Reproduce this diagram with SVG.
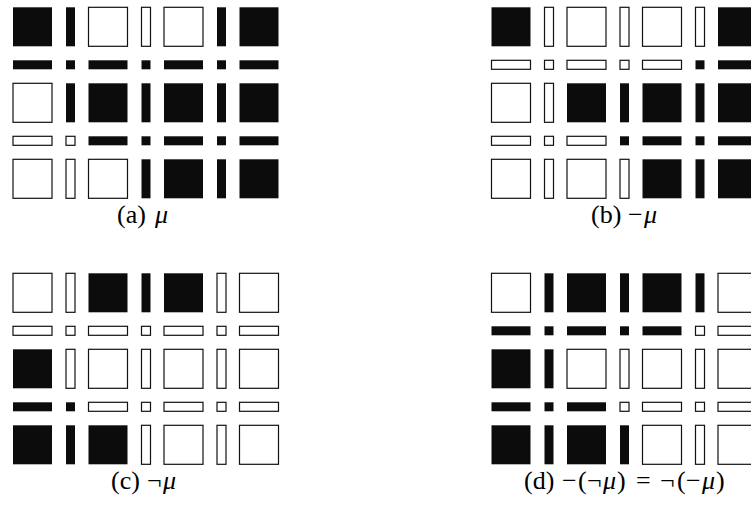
<svg xmlns="http://www.w3.org/2000/svg" width="751" height="512" viewBox="0 0 751 512">
<style>
.f{fill:#0c0c0c;stroke:none}
.w{fill:#fff;stroke:#111;stroke-width:1.2}
.lbl{font-family:"Liberation Serif","Times New Roman",serif;font-size:26px;fill:#000}
.it{font-style:italic}
</style>
<rect width="751" height="512" fill="#fff"/>
<g id="panel-a" transform="translate(13,7.3)">
<rect class="f" x="0" y="0" width="39" height="39"/><rect class="f" x="53" y="0" width="9" height="39"/><rect class="w" x="75.5" y="0" width="39" height="39"/><rect class="w" x="128.5" y="0" width="9" height="39"/><rect class="w" x="151" y="0" width="39" height="39"/><rect class="f" x="204" y="0" width="9" height="39"/><rect class="f" x="226.5" y="0" width="39" height="39"/>
<rect class="f" x="0" y="53" width="39" height="9"/><rect class="f" x="53" y="53" width="9" height="9"/><rect class="f" x="75.5" y="53" width="39" height="9"/><rect class="f" x="128.5" y="53" width="9" height="9"/><rect class="f" x="151" y="53" width="39" height="9"/><rect class="f" x="204" y="53" width="9" height="9"/><rect class="f" x="226.5" y="53" width="39" height="9"/>
<rect class="w" x="0" y="76" width="39" height="39"/><rect class="f" x="53" y="76" width="9" height="39"/><rect class="f" x="75.5" y="76" width="39" height="39"/><rect class="f" x="128.5" y="76" width="9" height="39"/><rect class="f" x="151" y="76" width="39" height="39"/><rect class="f" x="204" y="76" width="9" height="39"/><rect class="f" x="226.5" y="76" width="39" height="39"/>
<rect class="w" x="0" y="129" width="39" height="9"/><rect class="w" x="53" y="129" width="9" height="9"/><rect class="f" x="75.5" y="129" width="39" height="9"/><rect class="f" x="128.5" y="129" width="9" height="9"/><rect class="f" x="151" y="129" width="39" height="9"/><rect class="f" x="204" y="129" width="9" height="9"/><rect class="f" x="226.5" y="129" width="39" height="9"/>
<rect class="w" x="0" y="152" width="39" height="39"/><rect class="w" x="53" y="152" width="9" height="39"/><rect class="w" x="75.5" y="152" width="39" height="39"/><rect class="f" x="128.5" y="152" width="9" height="39"/><rect class="f" x="151" y="152" width="39" height="39"/><rect class="f" x="204" y="152" width="9" height="39"/><rect class="f" x="226.5" y="152" width="39" height="39"/>
</g>
<g id="panel-b" transform="translate(491.5,7.3)">
<rect class="f" x="0" y="0" width="39" height="39"/><rect class="w" x="53" y="0" width="9" height="39"/><rect class="w" x="75.5" y="0" width="39" height="39"/><rect class="w" x="128.5" y="0" width="9" height="39"/><rect class="w" x="151" y="0" width="39" height="39"/><rect class="w" x="204" y="0" width="9" height="39"/><rect class="f" x="226.5" y="0" width="39" height="39"/>
<rect class="w" x="0" y="53" width="39" height="9"/><rect class="w" x="53" y="53" width="9" height="9"/><rect class="w" x="75.5" y="53" width="39" height="9"/><rect class="w" x="128.5" y="53" width="9" height="9"/><rect class="w" x="151" y="53" width="39" height="9"/><rect class="f" x="204" y="53" width="9" height="9"/><rect class="f" x="226.5" y="53" width="39" height="9"/>
<rect class="w" x="0" y="76" width="39" height="39"/><rect class="w" x="53" y="76" width="9" height="39"/><rect class="f" x="75.5" y="76" width="39" height="39"/><rect class="f" x="128.5" y="76" width="9" height="39"/><rect class="f" x="151" y="76" width="39" height="39"/><rect class="f" x="204" y="76" width="9" height="39"/><rect class="f" x="226.5" y="76" width="39" height="39"/>
<rect class="w" x="0" y="129" width="39" height="9"/><rect class="w" x="53" y="129" width="9" height="9"/><rect class="w" x="75.5" y="129" width="39" height="9"/><rect class="f" x="128.5" y="129" width="9" height="9"/><rect class="f" x="151" y="129" width="39" height="9"/><rect class="f" x="204" y="129" width="9" height="9"/><rect class="f" x="226.5" y="129" width="39" height="9"/>
<rect class="w" x="0" y="152" width="39" height="39"/><rect class="w" x="53" y="152" width="9" height="39"/><rect class="w" x="75.5" y="152" width="39" height="39"/><rect class="w" x="128.5" y="152" width="9" height="39"/><rect class="f" x="151" y="152" width="39" height="39"/><rect class="f" x="204" y="152" width="9" height="39"/><rect class="f" x="226.5" y="152" width="39" height="39"/>
</g>
<g id="panel-c" transform="translate(13,273.3)">
<rect class="w" x="0" y="0" width="39" height="39"/><rect class="w" x="53" y="0" width="9" height="39"/><rect class="f" x="75.5" y="0" width="39" height="39"/><rect class="f" x="128.5" y="0" width="9" height="39"/><rect class="f" x="151" y="0" width="39" height="39"/><rect class="w" x="204" y="0" width="9" height="39"/><rect class="w" x="226.5" y="0" width="39" height="39"/>
<rect class="w" x="0" y="53" width="39" height="9"/><rect class="w" x="53" y="53" width="9" height="9"/><rect class="w" x="75.5" y="53" width="39" height="9"/><rect class="w" x="128.5" y="53" width="9" height="9"/><rect class="w" x="151" y="53" width="39" height="9"/><rect class="w" x="204" y="53" width="9" height="9"/><rect class="w" x="226.5" y="53" width="39" height="9"/>
<rect class="f" x="0" y="76" width="39" height="39"/><rect class="w" x="53" y="76" width="9" height="39"/><rect class="w" x="75.5" y="76" width="39" height="39"/><rect class="w" x="128.5" y="76" width="9" height="39"/><rect class="w" x="151" y="76" width="39" height="39"/><rect class="w" x="204" y="76" width="9" height="39"/><rect class="w" x="226.5" y="76" width="39" height="39"/>
<rect class="f" x="0" y="129" width="39" height="9"/><rect class="f" x="53" y="129" width="9" height="9"/><rect class="w" x="75.5" y="129" width="39" height="9"/><rect class="w" x="128.5" y="129" width="9" height="9"/><rect class="w" x="151" y="129" width="39" height="9"/><rect class="w" x="204" y="129" width="9" height="9"/><rect class="w" x="226.5" y="129" width="39" height="9"/>
<rect class="f" x="0" y="152" width="39" height="39"/><rect class="f" x="53" y="152" width="9" height="39"/><rect class="f" x="75.5" y="152" width="39" height="39"/><rect class="w" x="128.5" y="152" width="9" height="39"/><rect class="w" x="151" y="152" width="39" height="39"/><rect class="w" x="204" y="152" width="9" height="39"/><rect class="w" x="226.5" y="152" width="39" height="39"/>
</g>
<g id="panel-d" transform="translate(491.5,273.3)">
<rect class="w" x="0" y="0" width="39" height="39"/><rect class="f" x="53" y="0" width="9" height="39"/><rect class="f" x="75.5" y="0" width="39" height="39"/><rect class="f" x="128.5" y="0" width="9" height="39"/><rect class="f" x="151" y="0" width="39" height="39"/><rect class="f" x="204" y="0" width="9" height="39"/><rect class="w" x="226.5" y="0" width="39" height="39"/>
<rect class="f" x="0" y="53" width="39" height="9"/><rect class="f" x="53" y="53" width="9" height="9"/><rect class="f" x="75.5" y="53" width="39" height="9"/><rect class="f" x="128.5" y="53" width="9" height="9"/><rect class="f" x="151" y="53" width="39" height="9"/><rect class="w" x="204" y="53" width="9" height="9"/><rect class="w" x="226.5" y="53" width="39" height="9"/>
<rect class="f" x="0" y="76" width="39" height="39"/><rect class="f" x="53" y="76" width="9" height="39"/><rect class="w" x="75.5" y="76" width="39" height="39"/><rect class="w" x="128.5" y="76" width="9" height="39"/><rect class="w" x="151" y="76" width="39" height="39"/><rect class="w" x="204" y="76" width="9" height="39"/><rect class="w" x="226.5" y="76" width="39" height="39"/>
<rect class="f" x="0" y="129" width="39" height="9"/><rect class="f" x="53" y="129" width="9" height="9"/><rect class="f" x="75.5" y="129" width="39" height="9"/><rect class="w" x="128.5" y="129" width="9" height="9"/><rect class="w" x="151" y="129" width="39" height="9"/><rect class="w" x="204" y="129" width="9" height="9"/><rect class="w" x="226.5" y="129" width="39" height="9"/>
<rect class="f" x="0" y="152" width="39" height="39"/><rect class="f" x="53" y="152" width="9" height="39"/><rect class="f" x="75.5" y="152" width="39" height="39"/><rect class="f" x="128.5" y="152" width="9" height="39"/><rect class="w" x="151" y="152" width="39" height="39"/><rect class="w" x="204" y="152" width="9" height="39"/><rect class="w" x="226.5" y="152" width="39" height="39"/>
</g>
<g id="labels">
<text class="lbl" y="223"><tspan x="117">(a)</tspan><tspan class="it" x="155">μ</tspan></text>
<text class="lbl" y="223"><tspan x="591">(b)</tspan><tspan x="628">−</tspan><tspan class="it" x="644">μ</tspan></text>
<text class="lbl" y="489"><tspan x="111">(c)</tspan><tspan x="147">¬</tspan><tspan class="it" x="163">μ</tspan></text>
<text class="lbl" y="489"><tspan x="524">(d)</tspan><tspan x="562">−</tspan><tspan x="578">(</tspan><tspan x="587">¬</tspan><tspan class="it" x="603">μ</tspan><tspan x="617">)</tspan><tspan x="636">=</tspan><tspan x="660">¬</tspan><tspan x="677">(</tspan><tspan x="686">−</tspan><tspan class="it" x="702">μ</tspan><tspan x="716">)</tspan></text>
</g>
</svg>
